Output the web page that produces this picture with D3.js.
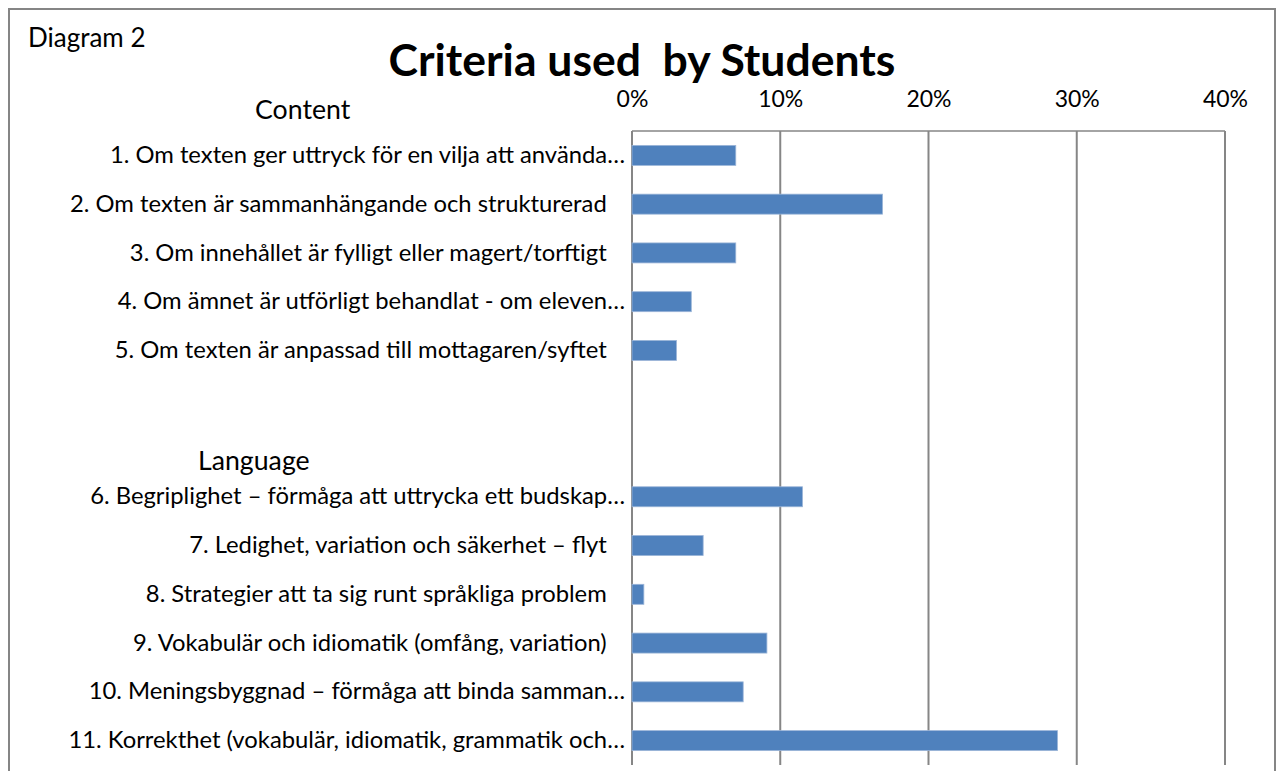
<!DOCTYPE html>
<html>
<head>
<meta charset="utf-8">
<script src="https://cdn.jsdelivr.net/npm/d3@7"></script>
<style>
  body { margin: 0; background: #fff; }
  svg text { font-family: Lato, "Open Sans", sans-serif; fill: #000; }
</style>
</head>
<body>
<div id="chart"></div>
<script>
// Data
const labels = [
  "1. Om texten ger uttryck för en vilja att använda…",
  "2. Om texten är sammanhängande och strukturerad   ",
  "3. Om innehållet är fylligt eller magert/torftigt   ",
  "4. Om ämnet är utförligt behandlat - om eleven…",
  "5. Om texten är anpassad till mottagaren/syftet   ",
  "",
  "",
  "6. Begriplighet – förmåga att uttrycka ett budskap…",
  "7. Ledighet, variation och säkerhet – flyt   ",
  "8. Strategier att ta sig runt språkliga problem   ",
  "9. Vokabulär och idiomatik (omfång, variation)   ",
  "10. Meningsbyggnad – förmåga att binda samman…",
  "11. Korrekthet (vokabulär, idiomatik, grammatik och…"
];
const values = [0.07, 0.169, 0.07, 0.04, 0.03, null, null, 0.115, 0.048, 0.008, 0.091, 0.075, 0.287];
const ticks = [0, 0.1, 0.2, 0.3, 0.4];

const width = 1280;
const height = 771;
const plot = {left: 632, right: 1225, top: 131, bottom: 765};

const svg = d3.select("#chart")
  .append("svg")
  .attr("width", width)
  .attr("height", height);

// outer frame
svg.append("rect")
  .attr("x", 9)
  .attr("y", 9)
  .attr("width", 1266)
  .attr("height", 800)
  .attr("fill", "none")
  .attr("stroke", "#858585")
  .attr("stroke-width", 2);

const x = d3.scaleLinear()
  .domain([0, 0.4])
  .range([plot.left, plot.right]);

const y = d3.scaleBand()
  .domain(d3.range(labels.length))
  .range([plot.top, plot.bottom])
  .paddingInner(0.59)
  .paddingOuter(0.295);

// gridlines
svg.append("g")
  .selectAll("line")
  .data(ticks)
  .join("line")
  .attr("x1", d => x(d))
  .attr("x2", d => x(d))
  .attr("y1", plot.top)
  .attr("y2", plot.bottom)
  .attr("stroke", "#868686")
  .attr("stroke-width", 2);

svg.append("line")
  .attr("x1", plot.left)
  .attr("x2", plot.right)
  .attr("y1", plot.top)
  .attr("y2", plot.top)
  .attr("stroke", "#868686")
  .attr("stroke-width", 1.5);

// bars
svg.append("g")
  .selectAll("rect")
  .data(values.map((v, i) => ({v, i})).filter(d => d.v !== null))
  .join("rect")
  .attr("x", x(0))
  .attr("y", d => y(d.i))
  .attr("width", d => x(d.v) - x(0))
  .attr("height", y.bandwidth())
  .attr("fill", "#4f81bd")
  .attr("stroke", "#9bb5d8")
  .attr("stroke-width", 0.8);

// top axis
const xAxis = svg.append("g")
  .attr("transform", `translate(0,${plot.top - 24})`)
  .call(d3.axisTop(x).tickValues(ticks).tickFormat(d3.format(".0%")).tickSize(0).tickPadding(0));
xAxis.select(".domain").remove();
xAxis.selectAll("text")
  .style("font-family", "Lato, sans-serif")
  .style("font-size", "23px");

// category axis
const yAxis = svg.append("g")
  .attr("transform", `translate(${plot.left},0)`)
  .call(d3.axisLeft(y).tickFormat(i => labels[i]).tickSize(0).tickPadding(7));
yAxis.select(".domain").remove();
yAxis.selectAll("text")
  .style("font-family", "Lato, sans-serif")
  .style("font-size", "23.8px")
  .style("white-space", "pre");

// titles
svg.append("text")
  .attr("x", 28)
  .attr("y", 47)
  .style("font-size", "26px")
  .text("Diagram 2");

svg.append("text")
  .attr("x", 642)
  .attr("y", 76)
  .attr("text-anchor", "middle")
  .style("font-size", "44.5px")
  .style("font-weight", "bold")
  .style("white-space", "pre")
  .text("Criteria used  by Students");

svg.append("clipPath")
  .attr("id", "contentClip")
  .append("rect")
  .attr("x", 0)
  .attr("y", 0)
  .attr("width", 640)
  .attr("height", 119);

svg.append("text")
  .attr("x", 255)
  .attr("y", 119)
  .attr("clip-path", "url(#contentClip)")
  .style("font-size", "26.7px")
  .text("Content");

svg.append("text")
  .attr("x", 198)
  .attr("y", 470)
  .style("font-size", "26.7px")
  .text("Language");
</script>
</body>
</html>
